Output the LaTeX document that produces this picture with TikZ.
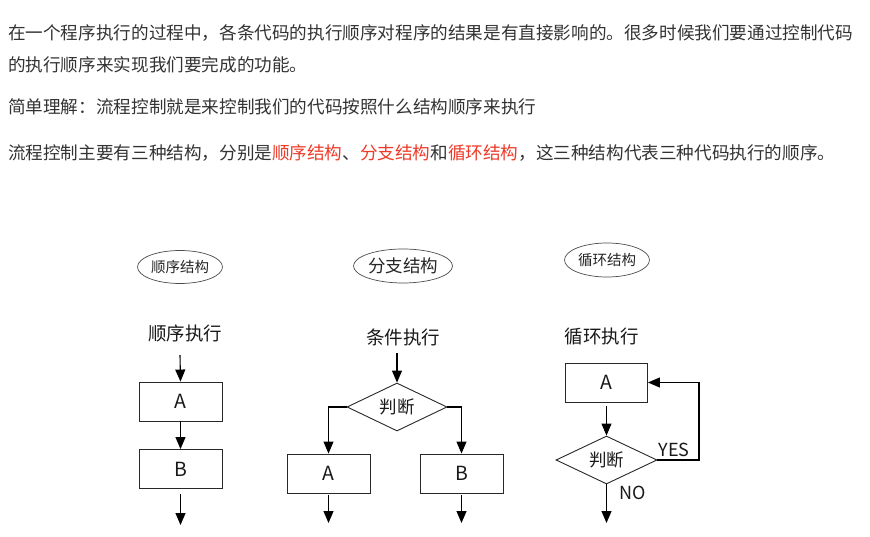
\documentclass[tikz,border=0pt]{standalone}
\usepackage{fontspec}
\setmainfont{Noto Sans CJK SC}
\usetikzlibrary{arrows.meta,shapes.geometric}
\definecolor{bodytext}{RGB}{51,51,51}
\definecolor{hilite}{RGB}{238,58,40}
\definecolor{frame}{RGB}{40,40,40}
\tikzset{
  para/.style={anchor=base west,inner sep=0pt,text=bodytext,font=\fontsize{17.6}{20}\selectfont},
  tag/.style={ellipse,draw=black!70,line width=0.7pt,inner sep=0pt,text=black!85},
  heading/.style={inner sep=0pt,text=black!90,font=\fontsize{18.5}{20}\selectfont},
  stepbox/.style={rectangle,draw=frame,line width=0.9pt,minimum width=83pt,minimum height=39pt,inner sep=0pt,text=black!90,font=\fontsize{19.5}{22}\selectfont},
  test/.style={diamond,aspect=2,draw=frame,line width=0.9pt,minimum width=100pt,minimum height=48pt,inner sep=0pt,text=black!90,font=\fontsize{17.5}{20}\selectfont},
  flow/.style={line width=1.1pt,-{Triangle[width=10pt,length=12pt]}},
  answer/.style={inner sep=0pt,font=\fontsize{18}{20}\selectfont,text=black!90}
}
\begin{document}
\begin{tikzpicture}[x=1pt,y=-1pt]
\useasboundingbox (0,0) rectangle (870,537);
\fill[white] (0,0) rectangle (870,537);

% introductory paragraphs
\node[para] (p1) at (8,39.5) {在一个程序执行的过程中，各条代码的执行顺序对程序的结果是有直接影响的。很多时候我们要通过控制代码};
\node[para] (p2) at (8,71.5) {的执行顺序来实现我们要完成的功能。};
\node[para] (p3) at (8,114) {简单理解：流程控制就是来控制我们的代码按照什么结构顺序来执行};
\node[para] (p4) at (8,160) {流程控制主要有三种结构，分别是\textcolor{hilite}{顺序结构}、\textcolor{hilite}{分支结构}和\textcolor{hilite}{循环结构}，这三种结构代表三种代码执行的顺序。};

% structure tags
\node[tag,minimum width=85pt,minimum height=33pt,font=\fontsize{14.5}{16}\selectfont] (t1) at (180,267) {顺序结构};
\node[tag,minimum width=86pt,minimum height=34pt,font=\fontsize{17.5}{19}\selectfont] (t2) at (403,266) {分支结构};
\node[tag,minimum width=85pt,minimum height=34pt,font=\fontsize{14.5}{16}\selectfont] (t3) at (607,260) {循环结构};

% sequence structure
\node[heading] (s0) at (185,333) {顺序执行};
\coordinate (s0a) at (180,355);
\node[stepbox] (sA) at (180.5,401.5) {A};
\node[stepbox] (sB) at (180.5,469) {B};
\coordinate (sEnd) at (180.5,525);
\draw[flow] (s0a) -- (sA.north);
\draw[flow] (sA) -- (sB);
\draw[flow,shorten <=5pt] (sB.south) -- (sEnd);

% branch structure
\node[heading] (b0) at (403,337) {条件执行};
\coordinate (b0a) at (397,353);
\node[test] (bD) at (397,407) {判断};
\node[stepbox] (bA) at (328.5,473.5) {A};
\node[stepbox] (bB) at (461.5,473.5) {B};
\coordinate (bAend) at (328.5,523);
\coordinate (bBend) at (461.5,523);
\draw[flow] (b0a) -- (bD.north);
\draw[flow] (bD.west) -| (bA.north);
\draw[flow] (bD.east) -| (bB.north);
\draw[flow,shorten <=2pt] (bA.south) -- (bAend);
\draw[flow,shorten <=2pt] (bB.south) -- (bBend);

% loop structure
\node[heading] (l0) at (601.5,337) {循环执行};
\node[stepbox,minimum width=82pt] (lA) at (606.5,382.5) {A};
\node[test,minimum width=101pt] (lD) at (606.5,460) {判断};
\coordinate (lBack) at (699,382.5);
\coordinate (lEnd) at (606.5,523);
\draw[flow,shorten <=4pt] (lA.south) -- (lD.north);
\draw[flow] (lD.east) -| (lBack) -- (lA.east);
\draw[flow] (lD.south) -- (lEnd);
\node[answer] (yes) at (674,450) {YES};
\node[answer] (no) at (633,493) {NO};
\end{tikzpicture}
\end{document}
